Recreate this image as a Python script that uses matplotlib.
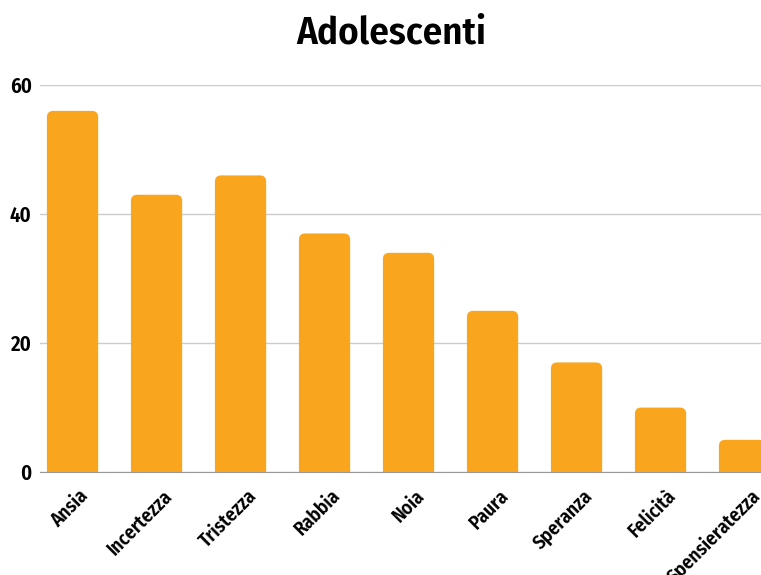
import matplotlib
matplotlib.use('Agg')
from matplotlib import pyplot as plt
from matplotlib import font_manager
from matplotlib.patches import FancyBboxPatch
from matplotlib.transforms import ScaledTranslation

CATEGORIES = ['Ansia', 'Incertezza', 'Tristezza', 'Rabbia', 'Noia', 'Paura',
              'Speranza', 'Felicità', 'Spensieratezza']
VALUES = [56, 43, 46, 37, 34, 25, 17, 10, 5]
Y_TICKS = [0, 20, 40, 60]
TITLE = 'Adolescenti'

BAR_COLOR = '#F9A61E'

# condensed bold face, first one found wins
CANDIDATES = ['OpenSansCondensed-Bold.ttf', 'OpenSans_Condensed-Bold.ttf',
              'OpenSansCondensed-SemiBold.ttf', 'NotoSansDisplay_Condensed-Bold.ttf',
              'NotoSans_Condensed-Bold.ttf', 'FiraSansCondensed-SemiBold.ttf',
              'DejaVuSansCondensed-Bold.ttf']


def pick_font():
    files = {f.fname.split('/')[-1]: f.fname for f in font_manager.fontManager.ttflist}
    for c in CANDIDATES:
        if c in files:
            return files[c]
    return None


FONT_FILE = pick_font()


def fp(size):
    if FONT_FILE:
        return font_manager.FontProperties(fname=FONT_FILE, size=size)
    return font_manager.FontProperties(family='DejaVu Sans', weight='bold', size=size)


def rounded_bars(ax, bars):
    for bar in bars:
        x, w, h = bar.get_x(), bar.get_width(), bar.get_height()
        patch = FancyBboxPatch((x, -2), w, h + 2,
                               boxstyle='round,pad=0,rounding_size=0.075',
                               mutation_aspect=12.5,
                               facecolor=BAR_COLOR, edgecolor='none', zorder=3)
        ax.add_patch(patch)
        bar.set_visible(False)


def plot():
    fig = plt.figure(figsize=(7.61, 5.75), dpi=100)
    ax = fig.add_axes([0.0526, 0.179, 0.9474, 0.673])

    xs = range(len(CATEGORIES))
    bars = ax.bar(xs, VALUES, width=0.61, color=BAR_COLOR)
    rounded_bars(ax, bars)

    ax.set_xlim(-0.387, 8.196)
    ax.set_ylim(0, 60)
    ax.set_yticks(Y_TICKS)
    ax.set_yticklabels([str(t) for t in Y_TICKS], fontproperties=fp(15))
    ax.set_xticks(list(xs))
    ax.set_xticklabels(CATEGORIES, rotation=45, ha='right',
                       rotation_mode='anchor', fontproperties=fp(14))
    ax.tick_params(axis='both', length=0)
    ax.tick_params(axis='y', pad=6)
    ax.tick_params(axis='x', pad=10)

    shift = ScaledTranslation(6 / 100, 0, fig.dpi_scale_trans)
    for lbl in ax.get_xticklabels():
        lbl.set_transform(lbl.get_transform() + shift)

    ax.grid(axis='y', color='#cccccc', linewidth=1, zorder=0)
    for side in ['top', 'right', 'left']:
        ax.spines[side].set_visible(False)
    ax.spines['bottom'].set_color('#999999')
    ax.spines['bottom'].set_zorder(4)

    fig.text(0.514, 0.943, TITLE, ha='center', va='center', fontproperties=fp(28))

    plt.savefig('out.png')


if __name__ == '__main__':
    plot()
